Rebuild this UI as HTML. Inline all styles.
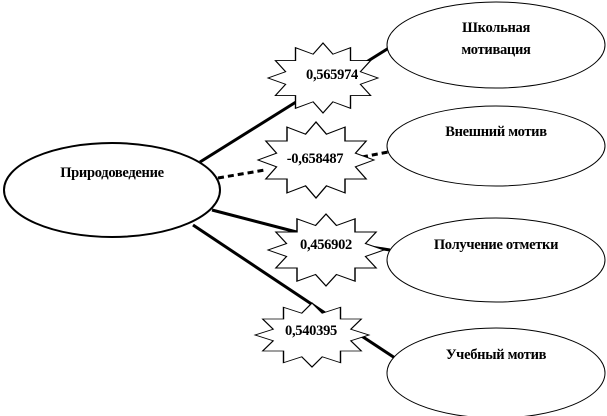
<!DOCTYPE html>
<html><head><meta charset="utf-8"><style>
html,body{margin:0;padding:0;background:#fff}
svg{display:block}
text{font-family:"Liberation Serif",serif;font-weight:bold;font-size:14.5px;fill:#000;letter-spacing:-0.3px}
</style></head><body>
<svg width="607" height="416" viewBox="0 0 607 416" xmlns="http://www.w3.org/2000/svg">
<defs>
<polygon id="st" points="1,0 .68,.18 .866,.5 .5,.5 .5,.866 .18,.68 0,1 -.18,.68 -.5,.866 -.5,.5 -.866,.5 -.68,.18 -1,0 -.68,-.18 -.866,-.5 -.5,-.5 -.5,-.866 -.18,-.68 0,-1 .18,-.68 .5,-.866 .5,-.5 .866,-.5 .68,-.18"/>
</defs>
<g stroke="#000" stroke-width="3" fill="none">
<line x1="200" y1="162" x2="312" y2="92"/>
<line x1="360" y1="66" x2="392" y2="46"/>
<line x1="218" y1="178" x2="265" y2="170" stroke-dasharray="6,4"/>
<line x1="362" y1="157" x2="388" y2="152" stroke-dasharray="6,4"/>
<line x1="212" y1="210" x2="312" y2="236"/>
<line x1="352" y1="244" x2="390" y2="250"/>
<line x1="193" y1="225" x2="325" y2="313"/>
<line x1="357" y1="333" x2="395" y2="358"/>
</g>
<g fill="#fff" stroke="#000" stroke-width="1">
<ellipse cx="112" cy="190" rx="108" ry="47" stroke-width="2"/>
<ellipse cx="496" cy="45" rx="109" ry="43"/>
<ellipse cx="496" cy="146" rx="109" ry="40"/>
<ellipse cx="496" cy="260" rx="109" ry="42"/>
<ellipse cx="496" cy="373" rx="109" ry="45"/>
<use href="#st" transform="translate(323,78) scale(55,35)" stroke-width="0.025"/>
<use href="#st" transform="translate(316,160) scale(58,38)" stroke-width="0.025"/>
<use href="#st" transform="translate(326,250) scale(58,36)" stroke-width="0.025"/>
<use href="#st" transform="translate(312,335) scale(57,32)" stroke-width="0.025"/>
</g>
<text x="112" y="177" text-anchor="middle">Природоведение</text>
<text x="496" y="32" text-anchor="middle">Школьная</text>
<text x="496" y="54" text-anchor="middle">мотивация</text>
<text x="496" y="136" text-anchor="middle">Внешний мотив</text>
<text x="496" y="249" text-anchor="middle">Получение отметки</text>
<text x="496" y="359" text-anchor="middle">Учебный мотив</text>
<text x="332" y="79" text-anchor="middle">0,565974</text>
<text x="315" y="163" text-anchor="middle">-0,658487</text>
<text x="326" y="249" text-anchor="middle">0,456902</text>
<text x="311" y="335" text-anchor="middle">0,540395</text>
</svg>
</body></html>
